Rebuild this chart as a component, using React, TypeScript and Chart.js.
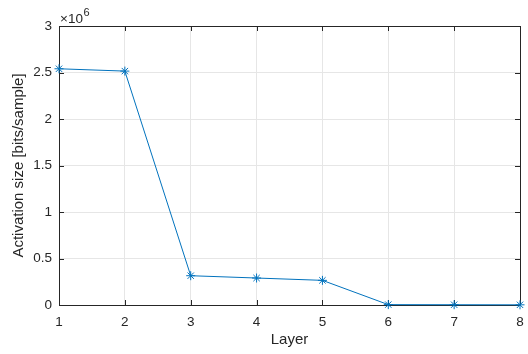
import React, { useEffect, useRef } from "react";
import { Chart, registerables } from "chart.js";

Chart.register(...registerables);

const layers = [1, 2, 3, 4, 5, 6, 7, 8];
const activationBits = [2540000, 2515000, 315000, 290000, 265000, 4000, 3000, 2000];
const xTicks = [1, 2, 3, 4, 5, 6, 7, 8];
const yTicks = [0, 0.5, 1, 1.5, 2, 2.5, 3];
const xLabel = "Layer";
const yLabel = "Activation size [bits/sample]";
const exponent = "6";

const FONT = "'Liberation Sans', Arial, Helvetica, sans-serif";
const AXIS_COLOR = "#262626";

const boxPlugin = {
  id: "matlabBox",
  beforeDatasetsDraw(chart: any) {
    const { ctx, chartArea: a, scales } = chart;
    ctx.save();
    ctx.strokeStyle = AXIS_COLOR;
    ctx.lineWidth = 1;
    ctx.beginPath();
    ctx.rect(Math.round(a.left) + 0.5, Math.round(a.top) + 0.5, Math.round(a.right - a.left), Math.round(a.bottom - a.top));
    ctx.stroke();
    const tl = 5;
    ctx.beginPath();
    for (const v of xTicks) {
      const x = Math.round(scales.x.getPixelForValue(v)) + 0.5;
      ctx.moveTo(x, a.bottom);
      ctx.lineTo(x, a.bottom - tl);
      ctx.moveTo(x, a.top);
      ctx.lineTo(x, a.top + tl);
    }
    for (const v of yTicks) {
      const y = Math.round(scales.y.getPixelForValue(v * 1e6)) + 0.5;
      ctx.moveTo(a.left, y);
      ctx.lineTo(a.left + tl, y);
      ctx.moveTo(a.right, y);
      ctx.lineTo(a.right - tl, y);
    }
    ctx.stroke();
    ctx.restore();
  },
  afterDraw(chart: any) {
    const { ctx, chartArea: a } = chart;
    ctx.save();
    ctx.fillStyle = AXIS_COLOR;
    // exponent label
    ctx.font = `13.5px ${FONT}`;
    ctx.textBaseline = "alphabetic";
    ctx.textAlign = "left";
    const base = "\u00d710";
    ctx.fillText(base, a.left + 1, 23);
    const w = ctx.measureText(base).width;
    ctx.font = `11px ${FONT}`;
    ctx.fillText(exponent, a.left + 1 + w + 0.5, 16);
    // x label
    ctx.font = `15px ${FONT}`;
    ctx.textAlign = "center";
    ctx.textBaseline = "middle";
    ctx.fillText(xLabel, (a.left + a.right) / 2, 340);
    // y label
    ctx.translate(19, (a.top + a.bottom) / 2);
    ctx.rotate(-Math.PI / 2);
    ctx.fillText(yLabel, 0, 0);
    ctx.restore();
  },
};

export default function App() {
  const ref = useRef<HTMLCanvasElement>(null);
  useEffect(() => {
    if (!ref.current) return;
    const chart = new Chart(ref.current, {
      type: "line",
      data: {
        datasets: [
          {
            data: layers.map((l, i) => ({ x: l, y: activationBits[i] })),
            borderColor: "#0072BD",
            backgroundColor: "#0072BD",
            borderWidth: 1,
            pointStyle: "star",
            pointRadius: 4.5,
            pointBorderWidth: 1,
            pointBorderColor: "#0072BD",
            fill: false,
            tension: 0,
            clip: false,
          } as any,
        ],
      },
      options: {
        responsive: false,
        animation: false,
        devicePixelRatio: 1,
        layout: { padding: { top: 26, right: 8, left: 0, bottom: 0 } },
        plugins: { legend: { display: false }, tooltip: { enabled: false } },
        scales: {
          x: {
            type: "linear",
            min: 1,
            max: 8,
            afterBuildTicks: (s: any) => {
              s.ticks = xTicks.map((v) => ({ value: v }));
            },
            afterFit: (s: any) => {
              s.height = 49;
              s.paddingLeft = 0;
              s.paddingRight = 0;
            },
            grid: { color: "#e6e6e6", drawTicks: false, lineWidth: 1 },
            border: { display: false },
            ticks: {
              padding: 9,
              color: AXIS_COLOR,
              font: { family: FONT, size: 13.5 },
              maxRotation: 0,
              callback: (v: any) => String(v),
            },
          },
          y: {
            type: "linear",
            min: 0,
            max: 3e6,
            afterBuildTicks: (s: any) => {
              s.ticks = yTicks.map((v) => ({ value: v * 1e6 }));
            },
            afterFit: (s: any) => {
              s.width = 59;
              s.paddingTop = 0;
              s.paddingBottom = 0;
            },
            grid: { color: "#e6e6e6", drawTicks: false, lineWidth: 1 },
            border: { display: false },
            ticks: {
              padding: 7,
              color: AXIS_COLOR,
              font: { family: FONT, size: 13.5 },
              callback: (v: any) => String(Number(v) / 1e6),
            },
          },
        },
      },
      plugins: [boxPlugin],
    });
    return () => chart.destroy();
  }, []);
  return (
    <div style={{ position: "fixed", left: 0, top: 0, width: 528, height: 354, background: "#fff" }}>
      <canvas ref={ref} width={528} height={354} />
    </div>
  );
}
